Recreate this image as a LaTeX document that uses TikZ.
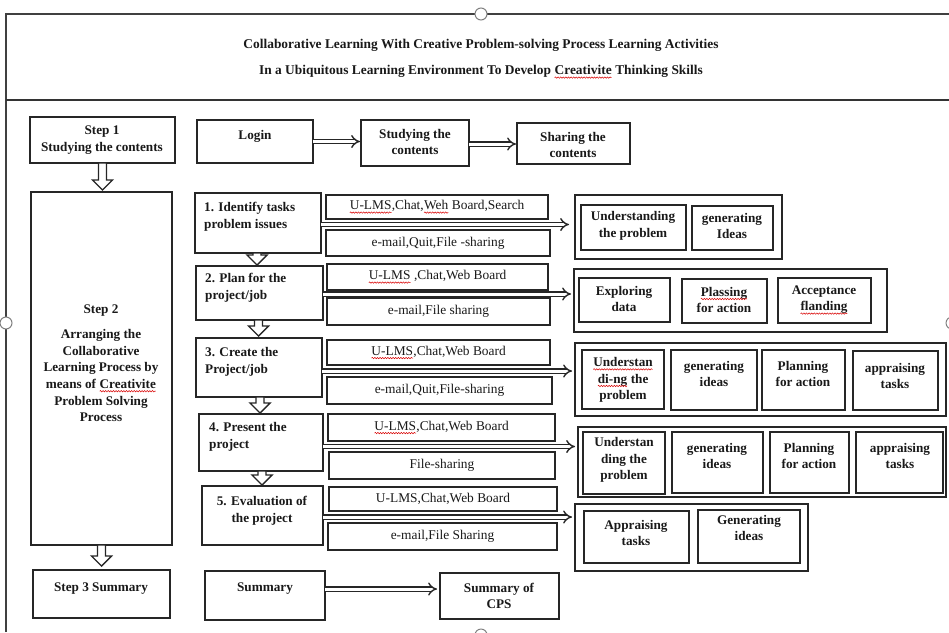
\documentclass[tikz,border=0pt]{standalone}
\usepackage{fontspec}
\setmainfont{Liberation Serif}
\usetikzlibrary{arrows.meta,calc,decorations.pathmorphing}
\newcommand\redwave[1]{\tikz[baseline=(w.base)]{\node[inner sep=0pt, outer sep=0pt] (w) {#1};
  \draw[red!85!black, line width=0.5pt, decorate, decoration={snake, amplitude=0.7pt, segment length=2.6pt}]
    ([yshift=-2.8pt]w.base west) -- ([yshift=-2.8pt]w.base east);}}
\tikzset{
  box/.style={draw=black!85, line width=1.6pt, fill=white, inner sep=0pt, outer sep=0pt},
  txtb/.style={font=\fontsize{13.2}{16.6}\selectfont\bfseries, align=center, inner sep=0pt, text=black!90},
  txtn/.style={font=\fontsize{13.4}{15}\selectfont, align=center, inner sep=0pt, text=black!90},
  ttl/.style={font=\fontsize{13.4}{15}\selectfont\bfseries, inner sep=0pt, text=black!90},
  dbl/.style={draw=black!85, double=white, double distance=3pt, line width=1.4pt, -{Implies[scale=1.35]}},
  blockdown/.style={draw=black!85, line width=1.4pt, fill=white,
    to path={let \p1=(\tikztostart), \p2=(\tikztotarget) in
      (\x1-4pt,\y1) -- (\x1-4pt,\y2+10pt) -- (\x1-10pt,\y2+10pt) -- (\x1,\y2)
      -- (\x1+10pt,\y2+10pt) -- (\x1+4pt,\y2+10pt) -- (\x1+4pt,\y1) -- cycle}},
  handle/.style={draw=black!50, line width=1pt, fill=white},
  frame/.style={draw=black!75, line width=1.2pt},
}
\newcommand\bx[8][txtb]{%
  \node[box, minimum width={#5-#3}, minimum height={#6-#4}, anchor=north west] (#2) at (#3,#4) {};
  \node[#1] (#2-t) at #7 {#8};}
\begin{document}
\begin{tikzpicture}[x=1pt,y=-1pt]
\useasboundingbox (0,0) rectangle (949,632);
% frame
\draw[frame] (6,632) -- (6,14) -- (949,14);
\draw[draw=black!80, line width=2.6pt] (6,100) -- (949,100);
\draw[handle] (481,14) circle (6pt);
\draw[handle] (6,323) circle (6pt);
\draw[handle] (952,323) circle (6pt);
\draw[handle] (481,635) circle (6pt);
% title
\node[ttl] (t1) at (481,45) {Collaborative Learning With Creative Problem-solving Process Learning Activities};
\node[ttl] (t2) at (481,72) {In a Ubiquitous Learning Environment To Develop \redwave{Creativite} Thinking Skills};
% left column
\bx{step1}{30}{117}{175}{163}{(102,140)}{Step 1\\Studying the contents}
\bx{step2}{31}{192}{172}{545}{(101,363)}{Step 2\\[9pt]Arranging the\\Collaborative\\Learning Process by\\means of \redwave{Creativite}\\Problem Solving\\Process}
\bx{step3}{33}{570}{170}{618}{(101,589)}{Step 3 Summary}
% top row
\bx{login}{197}{120}{313}{163}{(255,136)}{Login}
\bx{study}{361}{120}{469}{166}{(415,142)}{Studying the\\contents}
\bx{share}{517}{123}{630}{164}{(573,145)}{Sharing the\\contents}
% row 1
\bx[txtb, anchor=west, align=left]{r1}{195}{193}{321}{253}{(204,217)}{1. Identify tasks\\problem issues}
\bx[txtn]{r1a}{326}{195}{548}{219}{(r1a)}{\redwave{U-LMS},Chat,\redwave{Weh} Board,Search}
\bx[txtn]{r1b}{326}{230}{550}{256}{(r1b)}{e-mail,Quit,File -sharing}
\bx{g1}{575}{195}{782}{259}{(g1)}{}
\bx{g1a}{581}{205}{686}{250}{(633,226)}{Understanding\\the problem}
\bx{g1b}{692}{206}{773}{250}{(732,226)}{generating\\Ideas}
% row 2
\bx[txtb, anchor=west, align=left]{r2}{196}{266}{323}{320}{(205,288)}{2. Plan for the\\project/job}
\bx[txtn]{r2a}{327}{264}{548}{290}{(r2a)}{\redwave{U-LMS} ,Chat,Web Board}
\bx[txtn]{r2b}{327}{298}{550}{325}{(r2b)}{e-mail,File sharing}
\bx{g2}{574}{269}{887}{332}{(g2)}{}
\bx{g2a}{579}{278}{670}{322}{(624,299)}{Exploring\\data}
\bx{g2b}{682}{279}{767}{323}{(724,300)}{\redwave{Plassing}\\for action}
\bx{g2c}{778}{278}{871}{323}{(824,300)}{Acceptance\\\redwave{flanding}}
% row 3
\bx[txtb, anchor=west, align=left]{r3}{196}{338}{322}{397}{(205,362)}{3. Create the\\Project/job}
\bx[txtn]{r3a}{327}{340}{550}{365}{(r3a)}{\redwave{U-LMS},Chat,Web Board}
\bx[txtn]{r3b}{327}{377}{552}{404}{(r3b)}{e-mail,Quit,File-sharing}
\bx{g3}{575}{343}{946}{416}{(g3)}{}
\bx{g3a}{582}{350}{664}{409}{(623,380)}{\redwave{Understan}\\\redwave{di-ng} the\\problem}
\bx{g3b}{671}{350}{757}{410}{(714,374)}{generating\\ideas}
\bx{g3c}{762}{350}{845}{410}{(803,374)}{Planning\\for action}
\bx{g3d}{853}{351}{938}{410}{(895,376)}{appraising\\tasks}
% row 4
\bx[txtb, anchor=west, align=left]{r4}{199}{414}{323}{471}{(209,437)}{4. Present the\\project}
\bx[txtn]{r4a}{328}{414}{555}{441}{(r4a)}{\redwave{U-LMS},Chat,Web Board}
\bx[txtn]{r4b}{329}{452}{555}{479}{(r4b)}{File-sharing}
\bx{g4}{578}{427}{946}{497}{(g4)}{}
\bx{g4a}{583}{432}{665}{494}{(624,460)}{Understan\\ding the\\problem}
\bx{g4b}{672}{432}{763}{493}{(717,456)}{generating\\ideas}
\bx{g4c}{770}{432}{849}{493}{(809,456)}{Planning\\for action}
\bx{g4d}{856}{432}{943}{493}{(900,456)}{appraising\\tasks}
% row 5
\bx{r5}{202}{486}{323}{545}{(262,511)}{5. Evaluation of\\the project}
\bx[txtn]{r5a}{329}{487}{557}{511}{(r5a)}{U-LMS,Chat,Web Board}
\bx[txtn]{r5b}{328}{523}{557}{550}{(r5b)}{e-mail,File Sharing}
\bx{g5}{575}{504}{808}{571}{(g5)}{}
\bx{g5a}{584}{511}{689}{563}{(636,533)}{Appraising\\tasks}
\bx{g5b}{698}{510}{800}{563}{(749,528)}{Generating\\ideas}
% summary row
\bx{summ}{205}{571}{325}{620}{(265,589)}{Summary}
\bx{cps}{440}{573}{559}{619}{(499,596)}{Summary of\\CPS}
% block arrows down
\draw[blockdown] (step1.south) to ([yshift=2pt]step2.north);
\draw[blockdown] (step2.south) to ([yshift=4pt]step3.north);
\draw[blockdown] ([xshift=-1pt]r1.south) to ([yshift=1pt]r1.south |- r2.north);
\draw[blockdown] ([xshift=-1pt]r2.south) to ([yshift=2pt]r2.south |- r3.north);
\draw[blockdown] ([xshift=1pt]r3.south) to ([yshift=1pt]r3.south |- r4.north);
\draw[blockdown] ([xshift=1pt]r4.south) to ([yshift=1pt]r4.south |- r5.north);
% double arrows
\draw[dbl, shorten >=1pt] (login.east) -- (login.east -| study.west);
\draw[dbl, shorten >=1pt] ([yshift=-1pt]study.east) -- ([yshift=-1pt]study.east -| share.west);
\draw[dbl, shorten >=6pt] ([yshift=-1.5pt]r1.east) -- ([yshift=-1.5pt]r1.east -| g1.west);
\draw[dbl, shorten >=3pt] ([yshift=-1pt]r2.east) -- ([yshift=-1pt]r2.east -| g2.west);
\draw[dbl, shorten >=3pt] ([yshift=-3.5pt]r3.east) -- ([yshift=-3.5pt]r3.east -| g3.west);
\draw[dbl, shorten >=3pt] ([yshift=-4pt]r4.east) -- ([yshift=-4pt]r4.east -| g4.west);
\draw[dbl, shorten >=3pt] ([yshift=-1.5pt]r5.east) -- ([yshift=-1.5pt]r5.east -| g5.west);
\draw[dbl, shorten >=3pt] ([yshift=6.5pt]summ.east) -- ([yshift=6.5pt]summ.east -| cps.west);
\end{tikzpicture}
\end{document}
